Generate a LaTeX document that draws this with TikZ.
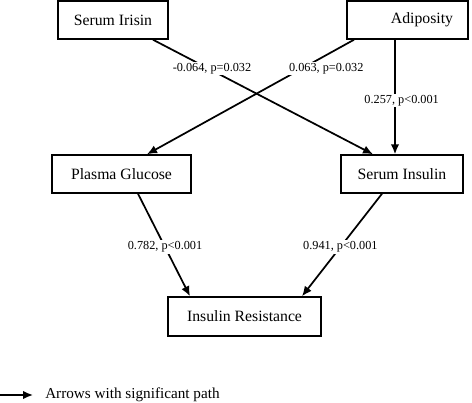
\documentclass[tikz,border=0pt]{standalone}
\usepackage{fontspec}
\setmainfont{Liberation Serif}
\usetikzlibrary{calc,arrows.meta}

\begin{document}
\begin{tikzpicture}[x=0.75pt,y=0.75pt,yscale=-1,xscale=1,>={Latex[length=7.5pt,width=6.5pt]},
    var/.style={draw,line width=1.1pt,minimum height=28.5pt,inner sep=0pt,font=\fontsize{11.8}{14}\selectfont},
    coef/.style={fill=white,inner sep=1pt,font=\fontsize{9.2}{11}\selectfont},
    sigarrow/.style={->,line width=1.3pt}]
            \useasboundingbox (0,0) rectangle (472,403);
            \node[var,minimum width=82.5pt] (irisin) at (113,20) {Serum Irisin};
            \node[var,minimum width=90.75pt,inner xsep=11.25pt,text width=68.25pt,align=right] (adip) at (407.5,20) {Adiposity};
            \node[var,minimum width=104.25pt] (glucose) at (121.5,174) {Plasma Glucose};
            \node[var,minimum width=91.5pt] (insulin) at (402,174) {Serum Insulin};
            \node[var,minimum width=114.75pt,minimum height=29.25pt] (resist) at (244.5,316.5) {Insulin Resistance};
            \draw[sigarrow] ($(irisin.south)+(40,0)$) -- node[coef,pos=0.25,xshift=3pt]{-0.064, p=0.032} ($(insulin.north)+(-29,0)$);
            \draw[sigarrow] ($(adip.south)+(-53.5,0)$) -- node[coef,pos=0.25,xshift=18pt]{0.063, p=0.032} ($(glucose.north)+(25.5,0)$);
            \draw[sigarrow] ($(adip.south)+(-12.5,0)$) -- node[coef,pos=0.53,xshift=5pt]{0.257, p<0.001} ($(insulin.north)+(-7,0)$);
            \draw[sigarrow] ($(glucose.south)+(16.5,0)$) -- node[coef,pos=0.52]{0.782, p<0.001} ($(resist.north)+(-54.5,0)$);
            \draw[sigarrow] ($(insulin.south)+(-20,0)$) -- node[coef,pos=0.52]{0.941, p<0.001} ($(resist.north)+(57.5,0)$);
            \coordinate (legtail) at (0,395);
            \node[anchor=west,inner xsep=9pt,font=\fontsize{11.4}{13}\selectfont] (legend) at (33,395) {Arrows with significant path};
            \draw[sigarrow] (legtail) -- (legend);
        \end{tikzpicture}
\end{document}
